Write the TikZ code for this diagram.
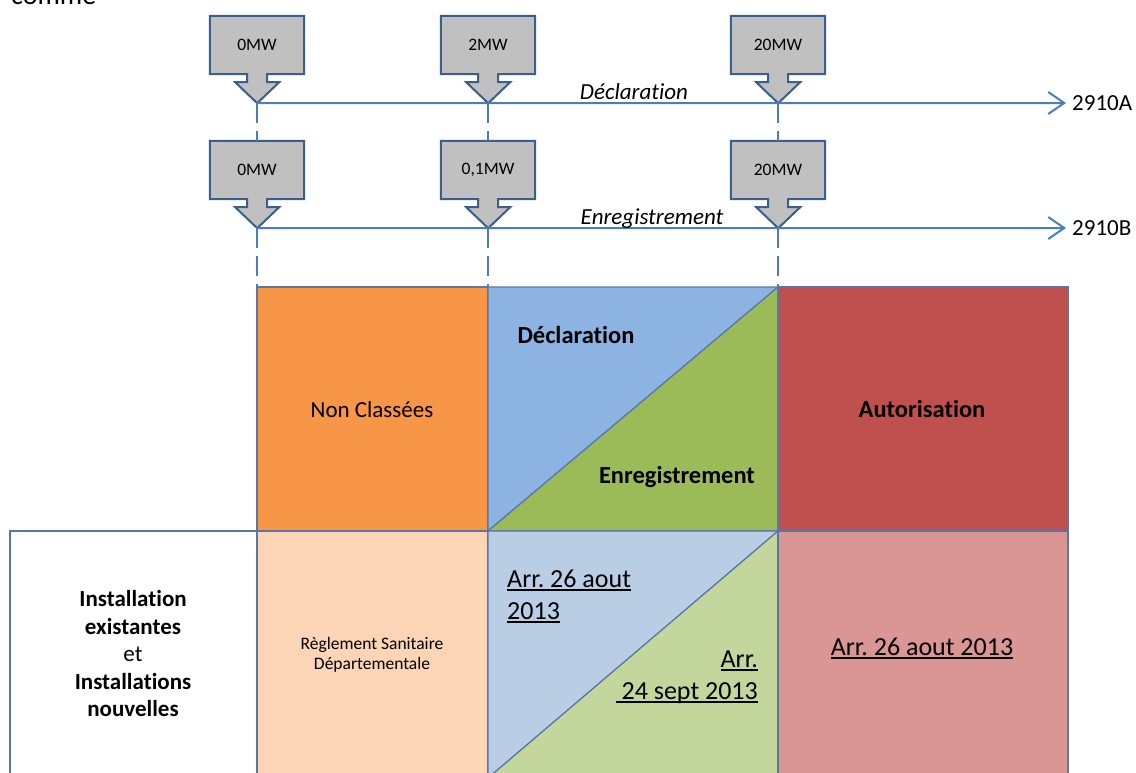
\documentclass[tikz,border=0pt]{standalone}
\usepackage{fontspec}
\setmainfont{Carlito}[Ligatures = NoCommon]
\frenchspacing
\usetikzlibrary{arrows.meta}
\definecolor{linkblue}{RGB}{74,126,187}
\definecolor{boxedge}{RGB}{58,95,140}
\definecolor{boxgray}{RGB}{192,192,192}
\definecolor{gridedge}{RGB}{88,118,168}
\definecolor{orangetop}{RGB}{247,150,70}
\definecolor{orangelow}{RGB}{251,213,181}
\definecolor{bluetop}{RGB}{141,179,226}
\definecolor{bluelow}{RGB}{185,205,229}
\definecolor{greentop}{RGB}{155,187,89}
\definecolor{greenlow}{RGB}{195,214,155}
\definecolor{redtop}{RGB}{192,80,77}
\definecolor{redlow}{RGB}{217,150,148}
\tikzset{mwbox/.style = {minimum width = 94pt, minimum height = 58pt, inner sep = 0pt}}
\tikzset{mwshape/.style = {draw = boxedge, line width = 2pt, fill = boxgray, line join = miter}}
\tikzset{mwlabel/.style = {inner sep = 0pt, font = \fontsize{17.5}{20}\selectfont}}
\tikzset{timeline/.style = {draw = linkblue, line width = 2pt, -{Straight Barb[length = 16pt, width = 22pt]}, shorten > = 6pt}}
\tikzset{guide/.style = {draw = linkblue, line width = 2pt, dash pattern = on 20pt off 8pt}}
\tikzset{cell/.style = {draw = gridedge, line width = 1.2pt}}
\tikzset{txt/.style = {inner sep = 0pt, font = \fontsize{23}{27.5}\selectfont}}
\tikzset{head/.style = {inner sep = 0pt, font = \fontsize{24.5}{29}\selectfont\bfseries}}
\tikzset{arr/.style = {inner sep = 0pt, font = \fontsize{26}{32}\selectfont}}
\newsavebox{\arrbox}
\newcommand{\arrline}[1]{\sbox{\arrbox}{#1}\rlap{\rule[-3.5pt]{\wd\arrbox}{1.4pt}}\usebox{\arrbox}}
\newcommand{\mwdrop}[4]{%
  \node [mwbox] (#1) at (#2 , #3) {};
  \path [mwshape] (#1.north west) -- (#1.north east) -- (#1.south east) -- ++(-37 , 0) -- ++(0 , 8) -- ++(12 , 0) -- ++(-22 , 21) -- ++(-22 , -21) -- ++(12 , 0) -- ++(0 , -8) -- (#1.south west) -- cycle;
  \node [mwlabel] (#1text) at (#1) {#4};
  \path (#1.south) ++(0 , 29) coordinate (#1tip);
}
\begin{document}
\begin{tikzpicture}[x = 1pt, y = -1pt]

  \useasboundingbox (0 , 0) rectangle (1136 , 772);

  \def\colA{257}
  \def\colB{488}
  \def\colC{778}
  \def\colD{1068}
  \def\rowTop{287}
  \def\rowMid{531}
  \def\rowBot{778}

  \node [anchor = base west, inner sep = 0pt, font = \fontsize{28}{32}\selectfont] (comme) at (11 , 4) {comme};

  \filldraw [cell, fill = orangetop] (\colA , \rowTop) rectangle (\colB , \rowMid);
  \filldraw [cell, fill = bluetop] (\colB , \rowTop) -- (\colC , \rowTop) -- (\colB , \rowMid) -- cycle;
  \filldraw [cell, fill = greentop] (\colC , \rowTop) -- (\colC , \rowMid) -- (\colB , \rowMid) -- cycle;
  \filldraw [cell, fill = redtop] (\colC , \rowTop) rectangle (\colD , \rowMid);

  \filldraw [cell, fill = white] (10 , \rowMid) rectangle (\colA , \rowBot);
  \filldraw [cell, fill = orangelow] (\colA , \rowMid) rectangle (\colB , \rowBot);
  \filldraw [cell, fill = bluelow] (\colB , \rowMid) -- (\colC , \rowMid) -- (\colB , \rowBot) -- cycle;
  \filldraw [cell, fill = greenlow] (\colC , \rowMid) -- (\colC , \rowBot) -- (\colB , \rowBot) -- cycle;
  \filldraw [cell, fill = redlow] (\colC , \rowMid) rectangle (\colD , \rowBot);

  \coordinate (gridtop) at (\colA , \rowTop);

  \mwdrop{decl0}{\colA}{45}{0MW}
  \mwdrop{decl2}{\colB}{45}{2MW}
  \mwdrop{decl20}{\colC}{45}{20MW}

  \mwdrop{enr0}{\colA}{170}{0MW}
  \mwdrop{enr01}{\colB}{170}{0,1MW}
  \mwdrop{enr20}{\colC}{170}{20MW}

  \node [txt, anchor = west] (codeA) at (1072 , 103) {2910A};
  \node [txt, anchor = west] (codeB) at (1072 , 228) {2910B};

  \draw [timeline] (decl0tip) -- (codeA.west);
  \draw [timeline] (enr0tip) -- (codeB.west);

  \draw [guide] (decl0tip) -- (enr0.north);
  \draw [guide] (decl2tip) -- (enr01.north);
  \draw [guide] (decl20tip) -- (enr20.north);
  \draw [guide] (enr0tip) -- (enr0tip |- gridtop);
  \draw [guide] (enr01tip) -- (enr01tip |- gridtop);
  \draw [guide] (enr20tip) -- (enr20tip |- gridtop);

  \node [txt, anchor = base, font = \fontsize{23}{27.5}\selectfont\itshape] (declTag) at (634 , 99) {Déclaration};
  \node [txt, anchor = base, font = \fontsize{23}{27.5}\selectfont\itshape] (enrTag) at (652 , 224) {Enregistrement};

  \node [txt, anchor = base] (nonclass) at (372 , 417) {Non Classées};
  \node [head, anchor = base] (declHead) at (576 , 343) {Déclaration};
  \node [head, anchor = base] (enrHead) at (677 , 483) {Enregistrement};
  \node [head, anchor = base] (autoHead) at (922 , 417) {Autorisation};

  \node [txt, align = center] (install) at (133 , 654) {\textbf{Installation}\\\textbf{existantes}\\et\\\textbf{Installations}\\\textbf{nouvelles}};
  \node [mwlabel, align = center] (rsd) at (372 , 655) {Règlement Sanitaire\\Départementale};
  \node [arr, align = left, anchor = west] (arrDecl) at (507 , 596) {\arrline{Arr. 26 aout}\\\arrline{2013}};
  \node [arr, align = right, anchor = east] (arrEnr) at (758 , 677) {\arrline{Arr.}\\\arrline{~24 sept 2013}};
  \node [arr, anchor = base] (arrAuto) at (922 , 655) {\arrline{Arr. 26 aout 2013}};

\end{tikzpicture}
\end{document}
